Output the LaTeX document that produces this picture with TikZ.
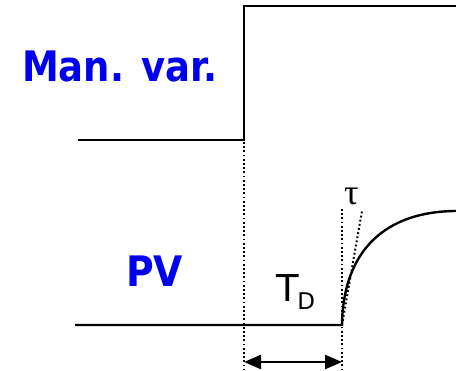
\documentclass[tikz,border=0pt]{standalone}
\usepackage{fontspec}
\setmainfont{DejaVu Sans}
\newfontfamily\serifgreek{Liberation Serif}
\usetikzlibrary{arrows.meta}
\definecolor{labelblue}{RGB}{0,0,240}
\tikzset{
  signal/.style={line width=2.4pt, line join=miter},
  guide/.style={line width=2pt, dash pattern=on 1.8pt off 2.4pt},
  biglabel/.style={text=labelblue, font=\bfseries\fontsize{42}{42}\selectfont, inner sep=0pt, anchor=base west},
  dim/.style={line width=2.4pt, {Triangle[length=17pt,width=14pt]}-{Triangle[length=17pt,width=14pt]}}
}
\begin{document}
\begin{tikzpicture}[x=1pt,y=-1pt]
\useasboundingbox (0,0) rectangle (456,371);
% manipulated variable step
\coordinate (mv0) at (78,140);
\coordinate (mvstep) at (244,140);
\coordinate (mvtop) at (244,6);
\coordinate (mvend) at (457,6);
\draw[signal] (mv0) -- (mvstep) -- (mvtop) -- (mvend);
% process variable
\coordinate (pv0) at (75,325);
\coordinate (pvstart) at (342,325);
\coordinate (pvend) at (457,211);
\draw[signal] (pv0) -- (pvstart) .. controls (343,250) and (386,211) .. (pvend);
% guides
\coordinate (g1top) at (244,142);
\coordinate (g1bot) at (244,369);
\coordinate (g2top) at (342,209);
\coordinate (g2bot) at (342,369);
\coordinate (tanend) at (362,211);
\draw[guide] (g1top) -- (g1bot);
\draw[guide] (g2top) -- (g2bot);
\draw[guide] (pvstart) -- (tanend);
% dead time arrow
\coordinate (a1) at (244,362);
\coordinate (a2) at (342,362);
\draw[dim] (a1) -- (a2);
% labels
\node[biglabel] (mvlabel) at (22,82) {\scalebox{0.88}[1]{Man. var.}};
\node[biglabel] (pvlabel) at (126,287) {\scalebox{0.9}[1]{PV}};
\node[inner sep=0pt, anchor=base west, font=\fontsize{37}{37}\selectfont] (td) at (276,302) {T\kern-1.5pt\raisebox{-8pt}{\fontsize{23}{23}\selectfont D}};
\node[inner sep=0pt, anchor=base west, font=\serifgreek\fontsize{36}{36}\selectfont] (tau) at (344,205) {τ};
\end{tikzpicture}
\end{document}
